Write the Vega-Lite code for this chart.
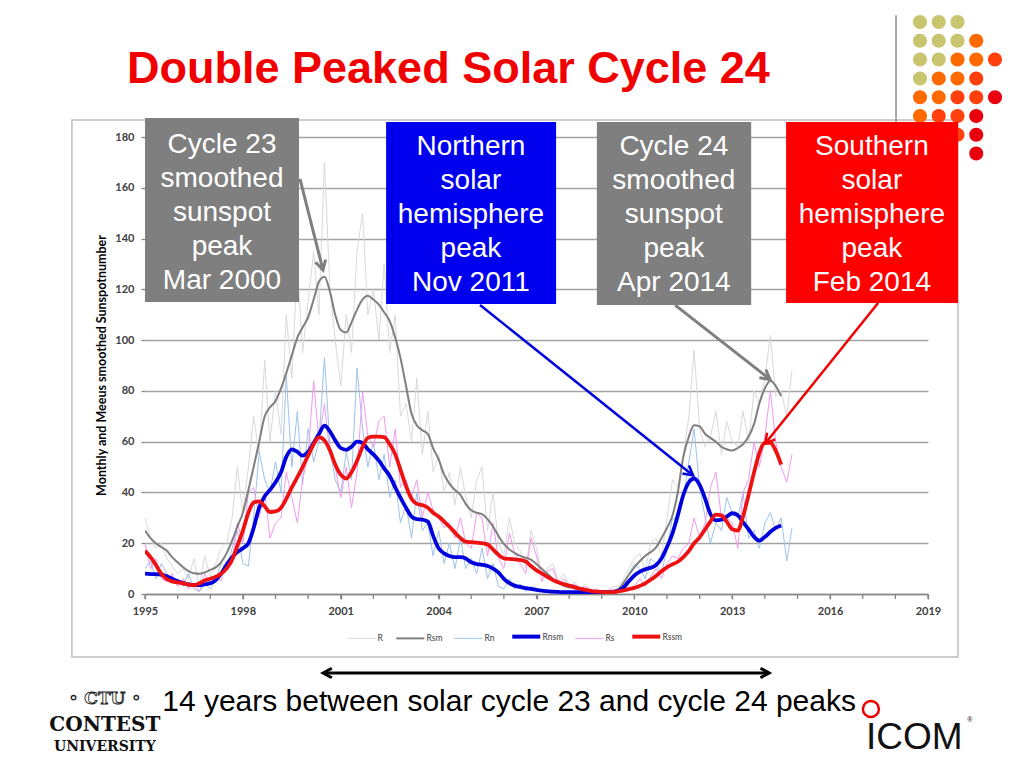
{
"$schema":"https://vega.github.io/schema/vega-lite/v6.json",
"width":783,"height":457,
"autosize":{"type":"none"},
"padding":{"left":145,"top":137,"right":96,"bottom":174},
"background":"#ffffff",
"config":{
"view":{"stroke":null},
"font":"Liberation Sans",
"axis":{"labelFont":"Lato","labelFontWeight":"bold","labelFontSize":11,"labelColor":"#404040","tickColor":"#868686","domainColor":"#868686","domainWidth":1.3,"tickWidth":1.3},
"axisX":{"grid":false,"tickSize":5,"labelPadding":6,"labelOverlap":false,"labelFlush":false},
"axisY":{"grid":true,"gridColor":"#a3a3a3","gridWidth":1.3,"domain":false,"tickSize":4,"labelPadding":7,"titleFont":"Lato","titleFontSize":12.5,"titleFontWeight":"bold","titleColor":"#000000","titleX":-44,"titleY":228,"titleAngle":270,"titleAlign":"center","titleBaseline":"middle"},
"legend":{"labelFont":"Lato","labelFontSize":8.5,"labelColor":"#404040"}
},
"datasets":{"ss":[
{"t":1995.00,"R":30,"Rsm":25,"Rn":10,"Rnsm":8,"Rs":20,"Rssm":17},
{"t":1995.17,"R":22,"Rsm":22,"Rn":13,"Rnsm":7.8,"Rs":10,"Rssm":14.5},
{"t":1995.33,"R":18,"Rsm":20,"Rn":6,"Rnsm":7.8,"Rs":14,"Rssm":11.5},
{"t":1995.50,"R":20,"Rsm":18.5,"Rn":12,"Rnsm":7.6,"Rs":6,"Rssm":8},
{"t":1995.67,"R":14,"Rsm":17,"Rn":8,"Rnsm":7,"Rs":5,"Rssm":5.8},
{"t":1995.83,"R":11,"Rsm":14.5,"Rn":5,"Rnsm":6,"Rs":8,"Rssm":5},
{"t":1996.00,"R":8,"Rsm":12.5,"Rn":6,"Rnsm":5,"Rs":3,"Rssm":4.6},
{"t":1996.17,"R":10,"Rsm":10.5,"Rn":3,"Rnsm":4.3,"Rs":6,"Rssm":4.2},
{"t":1996.33,"R":6,"Rsm":9,"Rn":8,"Rnsm":3.8,"Rs":2,"Rssm":3.7},
{"t":1996.50,"R":14,"Rsm":8.2,"Rn":2,"Rnsm":3.5,"Rs":4,"Rssm":3.5},
{"t":1996.67,"R":3,"Rsm":8,"Rn":1,"Rnsm":3.5,"Rs":1,"Rssm":4.2},
{"t":1996.83,"R":15,"Rsm":8.5,"Rn":4,"Rnsm":3.8,"Rs":8,"Rssm":5.3},
{"t":1997.00,"R":7,"Rsm":9.5,"Rn":2,"Rnsm":4.2,"Rs":4,"Rssm":6},
{"t":1997.17,"R":12,"Rsm":10.5,"Rn":6,"Rnsm":5.5,"Rs":7,"Rssm":6.8},
{"t":1997.33,"R":18,"Rsm":12.5,"Rn":12,"Rnsm":8,"Rs":5,"Rssm":8},
{"t":1997.50,"R":20,"Rsm":16,"Rn":10,"Rnsm":11.5,"Rs":13,"Rssm":10},
{"t":1997.67,"R":30,"Rsm":21,"Rn":18,"Rnsm":14.5,"Rs":12,"Rssm":13.5},
{"t":1997.83,"R":50,"Rsm":26.5,"Rn":25,"Rnsm":16.5,"Rs":28,"Rssm":19},
{"t":1998.00,"R":32,"Rsm":32,"Rn":12,"Rnsm":18,"Rs":20,"Rssm":25},
{"t":1998.17,"R":50,"Rsm":41,"Rn":11,"Rnsm":20,"Rs":40,"Rssm":32},
{"t":1998.33,"R":70,"Rsm":50,"Rn":30,"Rnsm":26,"Rs":42,"Rssm":36},
{"t":1998.50,"R":55,"Rsm":60,"Rn":56,"Rnsm":34,"Rs":30,"Rssm":36.5},
{"t":1998.67,"R":92,"Rsm":70,"Rn":45,"Rnsm":38.5,"Rs":40,"Rssm":34.5},
{"t":1998.83,"R":60,"Rsm":73.5,"Rn":40,"Rnsm":41,"Rs":22,"Rssm":32.3},
{"t":1999.00,"R":80,"Rsm":76,"Rn":52,"Rnsm":44,"Rs":28,"Rssm":32.5},
{"t":1999.17,"R":63,"Rsm":81,"Rn":40,"Rnsm":48,"Rs":30,"Rssm":34},
{"t":1999.33,"R":110,"Rsm":87,"Rn":86,"Rnsm":54,"Rs":48,"Rssm":37.5},
{"t":1999.50,"R":85,"Rsm":94,"Rn":50,"Rnsm":57,"Rs":38,"Rssm":42},
{"t":1999.67,"R":130,"Rsm":101,"Rn":72,"Rnsm":56,"Rs":28,"Rssm":46},
{"t":1999.83,"R":95,"Rsm":105,"Rn":43,"Rnsm":54.5,"Rs":45,"Rssm":50},
{"t":2000.00,"R":115,"Rsm":109,"Rn":65,"Rnsm":56,"Rs":55,"Rssm":54.5},
{"t":2000.17,"R":135,"Rsm":116,"Rn":52,"Rnsm":59.5,"Rs":84,"Rssm":59},
{"t":2000.33,"R":110,"Rsm":123,"Rn":60,"Rnsm":63,"Rs":60,"Rssm":61.8},
{"t":2000.50,"R":170,"Rsm":125,"Rn":93,"Rnsm":66.3,"Rs":75,"Rssm":60.5},
{"t":2000.67,"R":120,"Rsm":119,"Rn":58,"Rnsm":64,"Rs":55,"Rssm":56.5},
{"t":2000.83,"R":100,"Rsm":110,"Rn":45,"Rnsm":60.5,"Rs":50,"Rssm":51},
{"t":2001.00,"R":82,"Rsm":104,"Rn":40,"Rnsm":57.5,"Rs":38,"Rssm":47},
{"t":2001.17,"R":110,"Rsm":103,"Rn":56,"Rnsm":56.8,"Rs":50,"Rssm":45.5},
{"t":2001.33,"R":95,"Rsm":107,"Rn":45,"Rnsm":58,"Rs":34,"Rssm":48},
{"t":2001.50,"R":135,"Rsm":112,"Rn":89,"Rnsm":60,"Rs":48,"Rssm":52.5},
{"t":2001.67,"R":150,"Rsm":116,"Rn":65,"Rnsm":59.5,"Rs":80,"Rssm":58},
{"t":2001.83,"R":110,"Rsm":117.5,"Rn":50,"Rnsm":57,"Rs":62,"Rssm":61.5},
{"t":2002.00,"R":120,"Rsm":116,"Rn":60,"Rnsm":55,"Rs":58,"Rssm":62},
{"t":2002.17,"R":100,"Rsm":114,"Rn":45,"Rnsm":52.5,"Rs":68,"Rssm":62},
{"t":2002.33,"R":130,"Rsm":111,"Rn":55,"Rnsm":49.5,"Rs":70,"Rssm":61.8},
{"t":2002.50,"R":95,"Rsm":107.5,"Rn":38,"Rnsm":46.5,"Rs":50,"Rssm":59},
{"t":2002.67,"R":110,"Rsm":101,"Rn":45,"Rnsm":42,"Rs":65,"Rssm":55},
{"t":2002.83,"R":70,"Rsm":93,"Rn":28,"Rnsm":38,"Rs":42,"Rssm":49},
{"t":2003.00,"R":75,"Rsm":82,"Rn":35,"Rnsm":34,"Rs":45,"Rssm":42.5},
{"t":2003.17,"R":60,"Rsm":71,"Rn":22,"Rnsm":30.5,"Rs":38,"Rssm":37.5},
{"t":2003.33,"R":85,"Rsm":66.5,"Rn":40,"Rnsm":29.5,"Rs":45,"Rssm":35.5},
{"t":2003.50,"R":55,"Rsm":64.5,"Rn":25,"Rnsm":29.3,"Rs":30,"Rssm":35},
{"t":2003.67,"R":72,"Rsm":63,"Rn":28,"Rnsm":28.5,"Rs":40,"Rssm":34},
{"t":2003.83,"R":48,"Rsm":57.5,"Rn":15,"Rnsm":23,"Rs":33,"Rssm":32},
{"t":2004.00,"R":55,"Rsm":53,"Rn":25,"Rnsm":18,"Rs":30,"Rssm":30.5},
{"t":2004.17,"R":40,"Rsm":47,"Rn":12,"Rnsm":16,"Rs":26,"Rssm":28.5},
{"t":2004.33,"R":48,"Rsm":43.5,"Rn":20,"Rnsm":15,"Rs":28,"Rssm":26.5},
{"t":2004.50,"R":35,"Rsm":41,"Rn":10,"Rnsm":14.5,"Rs":22,"Rssm":24.2},
{"t":2004.67,"R":50,"Rsm":39,"Rn":22,"Rnsm":14.5,"Rs":30,"Rssm":22},
{"t":2004.83,"R":38,"Rsm":35.5,"Rn":10,"Rnsm":14,"Rs":20,"Rssm":20.6},
{"t":2005.00,"R":30,"Rsm":33,"Rn":14,"Rnsm":12.5,"Rs":18,"Rssm":20.4},
{"t":2005.17,"R":45,"Rsm":32,"Rn":8,"Rnsm":11.8,"Rs":32,"Rssm":20.2},
{"t":2005.33,"R":50,"Rsm":31.5,"Rn":18,"Rnsm":11.5,"Rs":30,"Rssm":20},
{"t":2005.50,"R":25,"Rsm":29.5,"Rn":6,"Rnsm":11,"Rs":15,"Rssm":19.5},
{"t":2005.67,"R":40,"Rsm":26.5,"Rn":12,"Rnsm":10,"Rs":28,"Rssm":17.5},
{"t":2005.83,"R":20,"Rsm":23,"Rn":3,"Rnsm":8.5,"Rs":14,"Rssm":15.5},
{"t":2006.00,"R":15,"Rsm":19.7,"Rn":2,"Rnsm":6,"Rs":10,"Rssm":14},
{"t":2006.17,"R":30,"Rsm":17.5,"Rn":6,"Rnsm":4.3,"Rs":24,"Rssm":13.8},
{"t":2006.33,"R":20,"Rsm":16.2,"Rn":2,"Rnsm":3.3,"Rs":16,"Rssm":13.6},
{"t":2006.50,"R":17,"Rsm":15,"Rn":4,"Rnsm":2.8,"Rs":12,"Rssm":13.4},
{"t":2006.67,"R":10,"Rsm":14.3,"Rn":1,"Rnsm":2.3,"Rs":8,"Rssm":12.8},
{"t":2006.83,"R":25,"Rsm":13.5,"Rn":3,"Rnsm":2,"Rs":22,"Rssm":11},
{"t":2007.00,"R":18,"Rsm":11.8,"Rn":2,"Rnsm":1.6,"Rs":15,"Rssm":9.3},
{"t":2007.17,"R":7,"Rsm":9.8,"Rn":1,"Rnsm":1.3,"Rs":5,"Rssm":8},
{"t":2007.33,"R":10,"Rsm":8,"Rn":1,"Rnsm":1.1,"Rs":9,"Rssm":6.8},
{"t":2007.50,"R":12,"Rsm":6,"Rn":0.5,"Rnsm":0.9,"Rs":10,"Rssm":5.5},
{"t":2007.67,"R":5,"Rsm":4.4,"Rn":0.5,"Rnsm":0.8,"Rs":4,"Rssm":4.6},
{"t":2007.83,"R":8,"Rsm":3.3,"Rn":0.5,"Rnsm":0.7,"Rs":6,"Rssm":3.9},
{"t":2008.00,"R":3,"Rsm":2.6,"Rn":0.5,"Rnsm":0.7,"Rs":3,"Rssm":3.3},
{"t":2008.17,"R":5,"Rsm":2.2,"Rn":1,"Rnsm":0.7,"Rs":4,"Rssm":2.7},
{"t":2008.33,"R":2,"Rsm":1.8,"Rn":0.5,"Rnsm":0.7,"Rs":2,"Rssm":2.1},
{"t":2008.50,"R":4,"Rsm":1.4,"Rn":0.5,"Rnsm":0.7,"Rs":3,"Rssm":1.6},
{"t":2008.67,"R":1,"Rsm":1,"Rn":0,"Rnsm":0.7,"Rs":1,"Rssm":1.2},
{"t":2008.83,"R":2,"Rsm":0.8,"Rn":0,"Rnsm":0.7,"Rs":2,"Rssm":0.9},
{"t":2009.00,"R":1,"Rsm":0.8,"Rn":0,"Rnsm":0.7,"Rs":1,"Rssm":0.8},
{"t":2009.17,"R":1.5,"Rsm":0.9,"Rn":0.5,"Rnsm":0.7,"Rs":1,"Rssm":0.7},
{"t":2009.33,"R":3,"Rsm":1.1,"Rn":1,"Rnsm":0.7,"Rs":2,"Rssm":0.7},
{"t":2009.50,"R":3,"Rsm":1.8,"Rn":2,"Rnsm":1.3,"Rs":1,"Rssm":1},
{"t":2009.67,"R":6,"Rsm":4.5,"Rn":4,"Rnsm":2.6,"Rs":2,"Rssm":1.4},
{"t":2009.83,"R":10,"Rsm":7.5,"Rn":8,"Rnsm":5,"Rs":2,"Rssm":1.9},
{"t":2010.00,"R":14,"Rsm":10.5,"Rn":12,"Rnsm":7.3,"Rs":3,"Rssm":2.4},
{"t":2010.17,"R":16,"Rsm":13,"Rn":10,"Rnsm":8.8,"Rs":6,"Rssm":3.2},
{"t":2010.33,"R":9,"Rsm":15,"Rn":6,"Rnsm":9.7,"Rs":3,"Rssm":4.2},
{"t":2010.50,"R":20,"Rsm":16.5,"Rn":14,"Rnsm":10.3,"Rs":7,"Rssm":5.6},
{"t":2010.67,"R":22,"Rsm":18.5,"Rn":12,"Rnsm":11.5,"Rs":10,"Rssm":7.2},
{"t":2010.83,"R":15,"Rsm":22,"Rn":8,"Rnsm":14,"Rs":6,"Rssm":9},
{"t":2011.00,"R":30,"Rsm":26,"Rn":18,"Rnsm":18.5,"Rs":12,"Rssm":10.5},
{"t":2011.17,"R":45,"Rsm":31,"Rn":30,"Rnsm":24,"Rs":15,"Rssm":11.7},
{"t":2011.33,"R":42,"Rsm":40,"Rn":28,"Rnsm":31,"Rs":14,"Rssm":12.7},
{"t":2011.50,"R":55,"Rsm":54,"Rn":38,"Rnsm":39,"Rs":18,"Rssm":14.5},
{"t":2011.67,"R":70,"Rsm":62,"Rn":52,"Rnsm":44,"Rs":20,"Rssm":17},
{"t":2011.83,"R":96,"Rsm":66.5,"Rn":65,"Rnsm":45.5,"Rs":30,"Rssm":20},
{"t":2012.00,"R":65,"Rsm":66,"Rn":42,"Rnsm":43,"Rs":22,"Rssm":22.3},
{"t":2012.17,"R":58,"Rsm":63,"Rn":30,"Rnsm":37.5,"Rs":28,"Rssm":25.5},
{"t":2012.33,"R":62,"Rsm":61.5,"Rn":20,"Rnsm":31.5,"Rs":42,"Rssm":28.5},
{"t":2012.50,"R":72,"Rsm":60,"Rn":28,"Rnsm":29,"Rs":48,"Rssm":31.3},
{"t":2012.67,"R":55,"Rsm":58,"Rn":25,"Rnsm":29.3,"Rs":30,"Rssm":31},
{"t":2012.83,"R":68,"Rsm":57,"Rn":38,"Rnsm":30.5,"Rs":30,"Rssm":28.5},
{"t":2013.00,"R":60,"Rsm":56.5,"Rn":32,"Rnsm":31.8,"Rs":28,"Rssm":25.5},
{"t":2013.17,"R":58,"Rsm":57.5,"Rn":30,"Rnsm":31,"Rs":18,"Rssm":25},
{"t":2013.33,"R":72,"Rsm":59,"Rn":40,"Rnsm":28.3,"Rs":40,"Rssm":30.5},
{"t":2013.50,"R":60,"Rsm":62,"Rn":22,"Rnsm":25.5,"Rs":45,"Rssm":39},
{"t":2013.67,"R":80,"Rsm":67,"Rn":25,"Rnsm":22.5,"Rs":60,"Rssm":48},
{"t":2013.83,"R":75,"Rsm":75,"Rn":18,"Rnsm":21,"Rs":50,"Rssm":55.5},
{"t":2014.00,"R":85,"Rsm":81,"Rn":28,"Rnsm":22.5,"Rs":62,"Rssm":59.5},
{"t":2014.17,"R":102,"Rsm":84,"Rn":32,"Rnsm":24.5,"Rs":80,"Rssm":59.5},
{"t":2014.33,"R":78,"Rsm":82,"Rn":25,"Rnsm":26,"Rs":60,"Rssm":56.5},
{"t":2014.50,"R":80,"Rsm":78,"Rn":30,"Rnsm":27,"Rs":50,"Rssm":51},
{"t":2014.67,"R":70,"Rn":13,"Rs":44},
{"t":2014.83,"R":88,"Rn":26,"Rs":55}
],
"years":[{"yr":1995},{"yr":1996},{"yr":1997},{"yr":1998},{"yr":1999},{"yr":2000},{"yr":2001},{"yr":2002},{"yr":2003},{"yr":2004},{"yr":2005},{"yr":2006},{"yr":2007},{"yr":2008},{"yr":2009},{"yr":2010},{"yr":2011},{"yr":2012},{"yr":2013},{"yr":2014},{"yr":2015},{"yr":2016},{"yr":2017},{"yr":2018},{"yr":2019}]
},
"layer":[
{"data":{"values":[{}]},"mark":{"type":"rect","filled":false,"stroke":"#bfbfbf","strokeWidth":1.5},
 "encoding":{"x":{"datum":1992.76,"type":"quantitative"},"x2":{"datum":2019.92},"y":{"datum":186.7,"type":"quantitative"},"y2":{"datum":-24.8}}},
{"data":{"name":"ss"},
 "transform":[{"fold":["R","Rn","Rs"],"as":["series","v"]},{"filter":{"field":"v","valid":true}}],
 "mark":{"type":"line","strokeWidth":1,"clip":true},
 "encoding":{
  "x":{"field":"t","type":"quantitative","scale":{"domain":[1995,2019],"nice":false,"zero":false},"title":null,
   "axis":{"values":[1995,1998,2001,2004,2007,2010,2013,2016,2019],"format":"d","labelOverlap":false,"labelFlush":false}},
  "y":{"field":"v","type":"quantitative","scale":{"domain":[0,180],"nice":false,"zero":true},"title":"Monthly and Meeus smoothed Sunspotnumber",
   "axis":{"values":[0,20,40,60,80,100,120,140,160,180]}},
  "color":{"field":"series","type":"nominal","scale":{"domain":["R","Rsm","Rn","Rnsm","Rs","Rssm"],"range":["#d9d9d9","#7f7f7f","#9dc3ea","#0000dd","#f09af0","#ee1111"]},
   "legend":{"orient":"none","legendX":212,"legendY":495,"direction":"horizontal","title":null,"symbolType":"stroke","symbolSize":784,"labelOffset":12,"columnPadding":9,
    "encode":{"symbols":{"update":{"strokeWidth":{"signal":"datum.value == 'Rnsm' || datum.value == 'Rssm' ? 4 : (datum.value == 'Rsm' ? 2 : 1)"}}}}}}
 }},
{"data":{"name":"ss"},
 "transform":[{"fold":["Rsm","Rnsm","Rssm"],"as":["series","v"]},{"filter":{"field":"v","valid":true}}],
 "mark":{"type":"line","interpolate":"monotone","clip":true},
 "encoding":{
  "x":{"field":"t","type":"quantitative"},
  "y":{"field":"v","type":"quantitative"},
  "color":{"field":"series","type":"nominal"},
  "strokeWidth":{"condition":{"test":"datum.series == 'Rsm'","value":2},"value":3.8}
 }},
{"data":{"name":"years"},"mark":{"type":"rule","stroke":"#868686","strokeWidth":1.3},
 "encoding":{"x":{"field":"yr","type":"quantitative"},"y":{"datum":0,"type":"quantitative"},"y2":{"datum":-1.97}}},
{"data":{"values":[{}]},"mark":{"type":"rule","stroke":"#9c8492","strokeWidth":1.5},
 "encoding":{"x":{"datum":2018.02,"type":"quantitative"},"y":{"datum":228,"type":"quantitative"},"y2":{"datum":185.9}}},
{"data":{"values":[{}]},"mark":{"type":"point","shape":"M-7,0a7,7 0 1,0 14,0a7,7 0 1,0 -14,0ZM11.75,0a7,7 0 1,0 14,0a7,7 0 1,0 -14,0ZM30.5,0a7,7 0 1,0 14,0a7,7 0 1,0 -14,0ZM-7,18.8a7,7 0 1,0 14,0a7,7 0 1,0 -14,0ZM11.75,18.8a7,7 0 1,0 14,0a7,7 0 1,0 -14,0ZM30.5,18.8a7,7 0 1,0 14,0a7,7 0 1,0 -14,0ZM-7,37.6a7,7 0 1,0 14,0a7,7 0 1,0 -14,0ZM11.75,37.6a7,7 0 1,0 14,0a7,7 0 1,0 -14,0ZM-7,56.4a7,7 0 1,0 14,0a7,7 0 1,0 -14,0Z","filled":true,"fill":"#c9c46e","strokeWidth":0,"size":4,"opacity":1},
 "encoding":{"x":{"datum":2018.755,"type":"quantitative"},"y":{"datum":225.3,"type":"quantitative"}}},
{"data":{"values":[{}]},"mark":{"type":"point","shape":"M49.25,18.8a7,7 0 1,0 14,0a7,7 0 1,0 -14,0ZM30.5,37.6a7,7 0 1,0 14,0a7,7 0 1,0 -14,0ZM49.25,37.6a7,7 0 1,0 14,0a7,7 0 1,0 -14,0ZM11.75,56.4a7,7 0 1,0 14,0a7,7 0 1,0 -14,0ZM30.5,56.4a7,7 0 1,0 14,0a7,7 0 1,0 -14,0ZM-7,75.2a7,7 0 1,0 14,0a7,7 0 1,0 -14,0ZM11.75,75.2a7,7 0 1,0 14,0a7,7 0 1,0 -14,0ZM-7,94a7,7 0 1,0 14,0a7,7 0 1,0 -14,0Z","filled":true,"fill":"#ff6a00","strokeWidth":0,"size":4,"opacity":1},
 "encoding":{"x":{"datum":2018.755,"type":"quantitative"},"y":{"datum":225.3,"type":"quantitative"}}},
{"data":{"values":[{}]},"mark":{"type":"point","shape":"M68,37.6a7,7 0 1,0 14,0a7,7 0 1,0 -14,0ZM49.25,56.4a7,7 0 1,0 14,0a7,7 0 1,0 -14,0ZM30.5,75.2a7,7 0 1,0 14,0a7,7 0 1,0 -14,0ZM49.25,75.2a7,7 0 1,0 14,0a7,7 0 1,0 -14,0ZM11.75,94a7,7 0 1,0 14,0a7,7 0 1,0 -14,0ZM30.5,94a7,7 0 1,0 14,0a7,7 0 1,0 -14,0ZM-7,112.8a7,7 0 1,0 14,0a7,7 0 1,0 -14,0ZM11.75,112.8a7,7 0 1,0 14,0a7,7 0 1,0 -14,0ZM30.5,112.8a7,7 0 1,0 14,0a7,7 0 1,0 -14,0Z","filled":true,"fill":"#ff400c","strokeWidth":0,"size":4,"opacity":1},
 "encoding":{"x":{"datum":2018.755,"type":"quantitative"},"y":{"datum":225.3,"type":"quantitative"}}},
{"data":{"values":[{}]},"mark":{"type":"point","shape":"M68,75.2a7,7 0 1,0 14,0a7,7 0 1,0 -14,0ZM49.25,94a7,7 0 1,0 14,0a7,7 0 1,0 -14,0ZM49.25,112.8a7,7 0 1,0 14,0a7,7 0 1,0 -14,0ZM49.25,131.6a7,7 0 1,0 14,0a7,7 0 1,0 -14,0Z","filled":true,"fill":"#e8000e","strokeWidth":0,"size":4,"opacity":1},
 "encoding":{"x":{"datum":2018.755,"type":"quantitative"},"y":{"datum":225.3,"type":"quantitative"}}},
{"data":{"values":[{}]},"mark":{"type":"rect","fill":"#7f7f7f"},
 "encoding":{"x":{"datum":1995.0,"type":"quantitative"},"x2":{"datum":1999.72},"y":{"datum":187.5,"type":"quantitative"},"y2":{"datum":115.0}}},
{"data":{"values":[{}]},"mark":{"type":"rect","fill":"#0000ee"},
 "encoding":{"x":{"datum":2002.39,"type":"quantitative"},"x2":{"datum":2007.6},"y":{"datum":185.9,"type":"quantitative"},"y2":{"datum":114.2}}},
{"data":{"values":[{}]},"mark":{"type":"rect","fill":"#7f7f7f"},
 "encoding":{"x":{"datum":2008.85,"type":"quantitative"},"x2":{"datum":2013.58},"y":{"datum":185.9,"type":"quantitative"},"y2":{"datum":113.8}}},
{"data":{"values":[{}]},"mark":{"type":"rect","fill":"#ff0000"},
 "encoding":{"x":{"datum":2014.65,"type":"quantitative"},"x2":{"datum":2019.92},"y":{"datum":185.9,"type":"quantitative"},"y2":{"datum":114.6}}},
{"data":{"values":[{}]},"mark":{"type":"text","text":["Cycle 23","smoothed","sunspot","peak","Mar 2000"],"fontSize":28,"lineHeight":34,"align":"center","baseline":"middle","fill":"#ffffff","font":"Liberation Sans"},
 "encoding":{"x":{"datum":1997.36,"type":"quantitative"},"y":{"datum":177.0,"type":"quantitative"}}},
{"data":{"values":[{}]},"mark":{"type":"text","text":["Northern","solar","hemisphere","peak","Nov 2011"],"fontSize":28,"lineHeight":34,"align":"center","baseline":"middle","fill":"#ffffff","font":"Liberation Sans"},
 "encoding":{"x":{"datum":2004.99,"type":"quantitative"},"y":{"datum":176.0,"type":"quantitative"}}},
{"data":{"values":[{}]},"mark":{"type":"text","text":["Cycle 24","smoothed","sunspot","peak","Apr 2014"],"fontSize":28,"lineHeight":34,"align":"center","baseline":"middle","fill":"#ffffff","font":"Liberation Sans"},
 "encoding":{"x":{"datum":2011.21,"type":"quantitative"},"y":{"datum":176.0,"type":"quantitative"}}},
{"data":{"values":[{}]},"mark":{"type":"text","text":["Southern","solar","hemisphere","peak","Feb 2014"],"fontSize":28,"lineHeight":34,"align":"center","baseline":"middle","fill":"#ffffff","font":"Liberation Sans"},
 "encoding":{"x":{"datum":2017.28,"type":"quantitative"},"y":{"datum":176.0,"type":"quantitative"}}},
{"data":{"values":[{}]},"mark":{"type":"rule","stroke":"#7f7f7f","strokeWidth":3},
 "encoding":{"x":{"datum":1999.75,"type":"quantitative"},"y":{"datum":163.5,"type":"quantitative"},"x2":{"datum":2000.456},"y2":{"datum":127.6}}},
{"data":{"values":[{}]},"mark":{"type":"point","shape":"M-0.55,1L0,0L0.55,1","filled":false,"stroke":"#7f7f7f","strokeWidth":3,"size":360,"angle":165,"opacity":1},
 "encoding":{"x":{"datum":2000.456,"type":"quantitative"},"y":{"datum":127.6,"type":"quantitative"}}},
{"data":{"values":[{}]},"mark":{"type":"rule","stroke":"#0000dd","strokeWidth":2.5},
 "encoding":{"x":{"datum":2005.27,"type":"quantitative"},"y":{"datum":113.8,"type":"quantitative"},"x2":{"datum":2011.8},"y2":{"datum":46.7}}},
{"data":{"values":[{}]},"mark":{"type":"point","shape":"M-0.55,1L0,0L0.55,1","filled":false,"stroke":"#0000dd","strokeWidth":2.5,"size":360,"angle":128.6,"opacity":1},
 "encoding":{"x":{"datum":2011.8,"type":"quantitative"},"y":{"datum":46.7,"type":"quantitative"}}},
{"data":{"values":[{}]},"mark":{"type":"rule","stroke":"#7f7f7f","strokeWidth":3},
 "encoding":{"x":{"datum":2011.25,"type":"quantitative"},"y":{"datum":113.8,"type":"quantitative"},"x2":{"datum":2014.16},"y2":{"datum":84.5}}},
{"data":{"values":[{}]},"mark":{"type":"point","shape":"M-0.55,1L0,0L0.55,1","filled":false,"stroke":"#7f7f7f","strokeWidth":3,"size":360,"angle":127.9,"opacity":1},
 "encoding":{"x":{"datum":2014.16,"type":"quantitative"},"y":{"datum":84.5,"type":"quantitative"}}},
{"data":{"values":[{}]},"mark":{"type":"rule","stroke":"#ee0000","strokeWidth":2.5},
 "encoding":{"x":{"datum":2017.47,"type":"quantitative"},"y":{"datum":114.6,"type":"quantitative"},"x2":{"datum":2014.01},"y2":{"datum":59.3}}},
{"data":{"values":[{}]},"mark":{"type":"point","shape":"M-0.55,1L0,0L0.55,1","filled":false,"stroke":"#ee0000","strokeWidth":2.5,"size":360,"angle":-141,"opacity":1},
 "encoding":{"x":{"datum":2014.01,"type":"quantitative"},"y":{"datum":59.3,"type":"quantitative"}}},
{"data":{"values":[{}]},"mark":{"type":"rule","stroke":"#000000","strokeWidth":3},
 "encoding":{"x":{"datum":2000.46,"type":"quantitative"},"y":{"datum":-31.1,"type":"quantitative"},"x2":{"datum":2014.13},"y2":{"datum":-31.1}}},
{"data":{"values":[{}]},"mark":{"type":"point","shape":"M-0.55,1L0,0L0.55,1","filled":false,"stroke":"#000000","strokeWidth":3,"size":300,"angle":270,"opacity":1},
 "encoding":{"x":{"datum":2000.46,"type":"quantitative"},"y":{"datum":-31.1,"type":"quantitative"}}},
{"data":{"values":[{}]},"mark":{"type":"point","shape":"M-0.55,1L0,0L0.55,1","filled":false,"stroke":"#000000","strokeWidth":3,"size":300,"angle":90,"opacity":1},
 "encoding":{"x":{"datum":2014.13,"type":"quantitative"},"y":{"datum":-31.1,"type":"quantitative"}}},
{"data":{"values":[{}]},"mark":{"type":"text","text":"Double Peaked Solar Cycle 24","fontSize":45,"fontWeight":"bold","align":"center","baseline":"alphabetic","fill":"#f00000","font":"Liberation Sans"},
 "encoding":{"x":{"datum":2004.3,"type":"quantitative"},"y":{"datum":201.3,"type":"quantitative"}}},
{"data":{"values":[{}]},"mark":{"type":"text","text":"14 years between solar cycle 23 and cycle 24 peaks","fontSize":30,"align":"center","baseline":"alphabetic","fill":"#000000","font":"Liberation Sans"},
 "encoding":{"x":{"datum":2006.16,"type":"quantitative"},"y":{"datum":-46.1,"type":"quantitative"}}},
{"data":{"values":[{}]},"mark":{"type":"text","text":"◦ CTU ◦","fontSize":17,"fontWeight":"bold","align":"center","baseline":"alphabetic","fill":"#ffffff","stroke":"#222222","strokeWidth":0.9,"font":"DejaVu Serif"},
 "encoding":{"x":{"datum":1993.77,"type":"quantitative"},"y":{"datum":-43.3,"type":"quantitative"}}},
{"data":{"values":[{}]},"mark":{"type":"text","text":"CONTEST","fontSize":20,"fontWeight":"bold","align":"center","baseline":"alphabetic","fill":"#111111","font":"DejaVu Serif"},
 "encoding":{"x":{"datum":1993.77,"type":"quantitative"},"y":{"datum":-54.0,"type":"quantitative"}}},
{"data":{"values":[{}]},"mark":{"type":"text","text":"UNIVERSITY","fontSize":14,"fontWeight":"bold","align":"center","baseline":"alphabetic","fill":"#111111","font":"DejaVu Serif"},
 "encoding":{"x":{"datum":1993.77,"type":"quantitative"},"y":{"datum":-61.8,"type":"quantitative"}}},
{"data":{"values":[{}]},"mark":{"type":"point","shape":"circle","filled":false,"stroke":"#ee0000","strokeWidth":2.5,"size":256,"opacity":1},
 "encoding":{"x":{"datum":2017.25,"type":"quantitative"},"y":{"datum":-45.3,"type":"quantitative"}}},
{"data":{"values":[{}]},"mark":{"type":"text","text":"ICOM","fontSize":37,"align":"left","baseline":"alphabetic","fill":"#111111","font":"Liberation Sans"},
 "encoding":{"x":{"datum":2017.1,"type":"quantitative"},"y":{"datum":-61.0,"type":"quantitative"}}},
{"data":{"values":[{}]},"mark":{"type":"text","text":"®","fontSize":7,"align":"left","baseline":"alphabetic","fill":"#111111","font":"Liberation Sans"},
 "encoding":{"x":{"datum":2020.2,"type":"quantitative"},"y":{"datum":-50.4,"type":"quantitative"}}}
]
}
